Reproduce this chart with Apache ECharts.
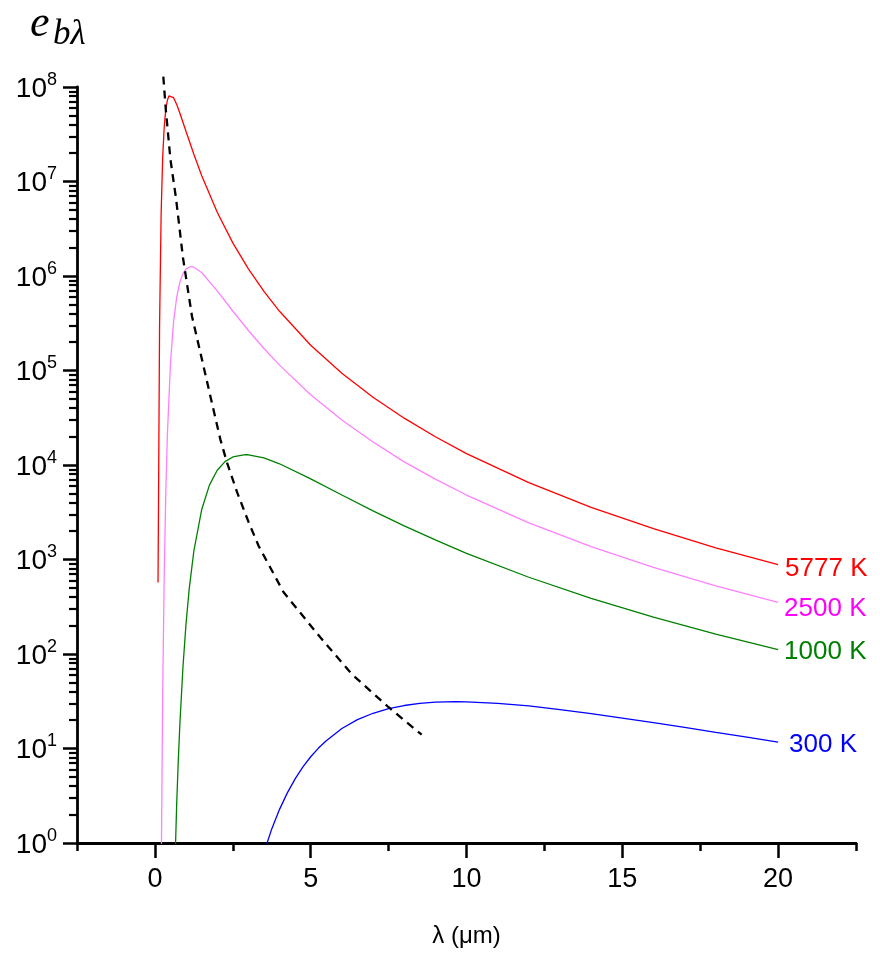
<!DOCTYPE html>
<html>
<head>
<meta charset="utf-8">
<script src="https://cdn.jsdelivr.net/npm/echarts@6/dist/echarts.min.js"></script>
<style>html,body{margin:0;padding:0;background:#fff}#c{width:880px;height:953px}</style>
</head>
<body>
<div id="c"></div>
<script>
// wavelength (um) and spectral emissive power
const lam5777 = [0.1,0.15,0.2,0.25,0.3,0.35,0.4,0.45,0.5,0.6,0.7,0.8,1.0,1.25,1.5,2,2.5,3,3.5,4,5,6,7,8,9,10,12,14,16,18,20];
const e5777   = [571,3.03e5,4.57e6,1.81e7,3.82e7,5.79e7,7.24e7,8.04e7,8.28e7,7.70e7,6.53e7,5.31e7,3.38e7,1.94e7,1.16e7,4.73e6,2.24e6,1.19e6,6.87e5,4.23e5,1.85e5,9.35e4,5.21e4,3.13e4,1.99e4,1.32e4,6520,3570,2120,1330,882];

const lam2500 = [0.2,0.25,0.3,0.35,0.4,0.5,0.6,0.7,0.8,0.9,1.0,1.15,1.25,1.5,2,2.5,3,3.5,4,5,6,7,8,9,10,12,14,16,18,20];
const e2500   = [0.372,38.5,718,5150,2.06e4,1.20e5,3.29e5,5.99e5,8.58e5,1.06e6,1.19e6,1.26e6,1.24e6,1.09e6,6.97e5,4.26e5,2.65e5,1.71e5,1.14e5,5.54e4,2.99e4,1.75e4,1.08e4,7080,4810,2440,1370,824,526,351];

const lam1000 = [0.6,0.7,0.75,0.8,0.9,1.0,1.1,1.25,1.5,1.75,2,2.25,2.5,2.9,3,3.5,4,5,6,7,8,9,10,12,14,16,18,20];
const e1000   = [0.185,2.64,7.35,17.7,72.3,211,485,1230,3360,6130,8790,10860,12170,12870,12830,11880,10300,7140,4810,3270,2270,1610,1160,649,388,245,162,111];

const lam300  = [3.5,3.75,4,4.25,4.5,4.75,5,5.25,5.5,6,6.5,7,7.5,8,8.5,9,9.66,10,11,12,13,14,15,16,17,18,19,20];
const e300    = [0.797,1.41,2.27,3.39,4.77,6.38,8.18,10.1,12.1,16.3,20.2,23.6,26.4,28.5,30.0,30.9,31.3,31.2,30.1,28.2,25.8,23.4,21.0,18.8,16.7,14.8,13.2,11.7];

const lamDash = [0.27,0.35,0.50,0.68,0.90,1.19,1.51,1.78,2.10,2.31,2.64,3.01,3.33,4.13,5.30,6.32,7.49,8.56];
const eDash   = [1.29e8,5.74e7,1.70e7,6.55e6,1.57e6,3.75e5,1.31e5,5.35e4,1.87e4,1.07e4,5130,2470,1390,450,151,61.2,27.5,14.0];

const seriesNames = ['5777 K','2500 K','1000 K','300 K'];
const xMajorTicks = [0,5,10,15,20];
const xMinorTicks = [-2.5,2.5,7.5,12.5,17.5,22.5];

const pairs = (a,b) => a.map((v,i)=>[v,b[i]]);
const chart = echarts.init(document.getElementById('c'), null, {renderer:'canvas'});
const axisFont = 'Liberation Sans, Arial, sans-serif';

function curve(name, lam, e, lineColor, labelColor, off){
  return {
    type:'line', name, data:pairs(lam,e), showSymbol:false, symbol:'none',
    smooth:false, clip:true,
    lineStyle:{color:lineColor, width:1.3},
    endLabel:{show:true, formatter:name, color:labelColor, fontSize:26,
      fontFamily:axisFont, distance:6, offset:off},
    animation:false, z:3
  };
}

chart.setOption({
  animation:false,
  backgroundColor:'#fff',
  grid:{left:77, right:24, top:87, bottom:109, containLabel:false},
  xAxis:[{
    type:'value', min:-2.5, max:22.5, position:'bottom',
    axisLine:{show:true, onZero:false, lineStyle:{color:'#000', width:2.8}},
    axisTick:{show:true, inside:false, length:8, customValues:xMinorTicks, lineStyle:{color:'#000', width:2.5}},
    axisLabel:{show:true, customValues:xMajorTicks, margin:23, fontSize:27, color:'#000', fontFamily:axisFont},
    splitLine:{show:false},
    name:'λ (μm)', nameLocation:'middle', nameGap:81,
    nameTextStyle:{fontSize:24, color:'#000', fontFamily:axisFont}
  },{
    type:'value', min:-2.5, max:22.5, position:'bottom',
    axisLine:{show:false, onZero:false},
    axisTick:{show:true, inside:false, length:15, customValues:xMajorTicks, lineStyle:{color:'#000', width:2.5}},
    axisLabel:{show:false},
    splitLine:{show:false}
  }],
  yAxis:{
    type:'log', logBase:10, min:1, max:1e8, splitNumber:8,
    axisLine:{show:true, onZero:false, lineStyle:{color:'#000', width:2.8}},
    axisTick:{show:true, inside:false, length:14, lineStyle:{color:'#000', width:2.5}},
    minorTick:{show:true, splitNumber:9, length:8, lineStyle:{color:'#000', width:2.2}},
    splitLine:{show:false}, minorSplitLine:{show:false},
    axisLabel:{
      margin:20, color:'#000', fontFamily:axisFont,
      formatter:function(v){ const p=Math.round(Math.log10(v)); return '{b|10}{e|'+p+'}'; },
      rich:{
        b:{fontSize:28, fontFamily:axisFont, color:'#000', lineHeight:32, verticalAlign:'bottom'},
        e:{fontSize:18, fontFamily:axisFont, color:'#000', lineHeight:32, verticalAlign:'top'}
      }
    }
  },
  graphic:[
    {type:'text', left:30, top:2, style:{text:'e', font:'italic 44px "Liberation Serif", "Times New Roman", serif', fill:'#000'}},
    {type:'text', left:53, top:17, style:{text:'bλ', font:'italic 35px "Liberation Serif", "Times New Roman", serif', fill:'#000'}}
  ],
  series:[
    curve(seriesNames[0], lam5777, e5777, '#ff0000', '#ff0000', [1,4]),
    curve(seriesNames[1], lam2500, e2500, '#ff80ff', '#ff00ff', [0,6]),
    curve(seriesNames[2], lam1000, e1000, '#008000', '#008000', [0,2]),
    curve(seriesNames[3], lam300, e300, '#0000ff', '#0000ff', [5,3]),
    {type:'line', name:'peak', data:pairs(lamDash,eDash), showSymbol:false, symbol:'none',
     smooth:false, clip:false,
     lineStyle:{color:'#000', width:2.3, type:[8,6]}, animation:false, z:4}
  ]
});
</script>
</body>
</html>
